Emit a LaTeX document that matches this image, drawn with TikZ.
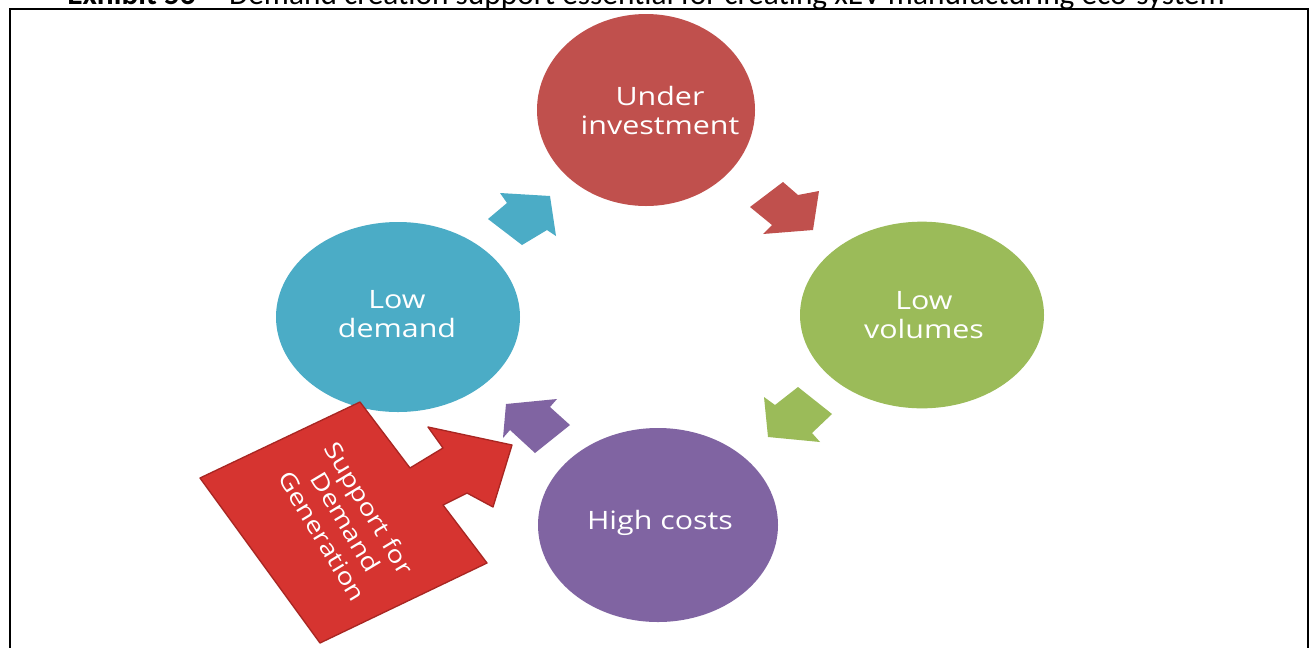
\documentclass[tikz,border=0pt]{standalone}
\usepackage{fontspec}
\setmainfont{Open Sans}
\newfontfamily\circfont[FakeStretch=1.2]{Open Sans}
\newfontfamily\titlefont{Carlito}
\usetikzlibrary{shapes.geometric}
\definecolor{cred}{HTML}{C0504D}
\definecolor{cgreen}{HTML}{9BBB59}
\definecolor{cpurple}{HTML}{8064A2}
\definecolor{cteal}{HTML}{4BACC6}
\definecolor{bigred}{HTML}{D63430}
\definecolor{bigredd}{HTML}{A82622}
\tikzset{
  bubble/.style={ellipse, inner sep=0pt, draw=none},
  bubbletext/.style={text=white, align=center, inner sep=0pt,
    font=\circfont\fontsize{19pt}{21.75pt}\selectfont},
  suptext/.style={text=white, align=center, inner sep=0pt,
    font=\circfont\fontsize{17.5pt}{20.5pt}\selectfont}
}
\begin{document}
\begin{tikzpicture}[x=0.75pt,y=-0.75pt]
\useasboundingbox (0,0) rectangle (1310,647);
\clip (0,0) rectangle (1310,647);
\fill[white] (0,0) rectangle (1310,647);
% title (cut off at the top)
\node[anchor=base, inner sep=0pt] (title) at (646,4.5)
  {\resizebox{868pt}{!}{\titlefont\textbf{Exhibit 56} -- Demand creation support essential for creating xEV manufacturing eco-system}};
% frame
\draw[line width=1.4pt] (10,700) -- (10,9) -- (1308,9) -- (1308,700);
% bubbles
\node[bubble, fill=cred, minimum width=163.5pt, minimum height=144pt] (inv) at (646,110) {};
\node[bubble, fill=cgreen, minimum width=183pt, minimum height=140pt] (vol) at (922,315) {};
\node[bubble, fill=cpurple, minimum width=180pt, minimum height=145.5pt] (cost) at (658,525) {};
\node[bubble, fill=cteal, minimum width=183pt, minimum height=142.5pt] (dem) at (398,317) {};
% small cycle arrows
\fill[cteal] (488,219) -- (507,203) -- (500,193) -- (550,196) -- (556,236) -- (547,230) -- (522,245) -- cycle;
\fill[cred] (783,182) -- (798,195) -- (819,191) -- (813,230) -- (763,234) -- (772,225) -- (750,207) -- cycle;
\fill[cgreen] (798,387) -- (832,414) -- (812,433) -- (820,442) -- (768,437) -- (764,397) -- (775,405) -- cycle;
\fill[cpurple] (506,404) -- (557,399) -- (550,407) -- (570,425) -- (535,453) -- (510,430) -- (503,438) -- cycle;
% big support arrow
\filldraw[fill=bigred, draw=bigredd, line width=1pt, line join=round]
  (200,478) -- (360,402) -- (410,468) -- (443,448) -- (428,427) -- (512,445)
  -- (493,507) -- (467,493) -- (443,505) -- (487,563) -- (320,643) -- cycle;
% texts
\node[bubbletext] (tinv) at (660,110) {Under\\investment};
\node[bubbletext] (tvol) at (924,315) {Low\\volumes};
\node[bubbletext] (tdem) at (397,314) {Low\\demand};
\node[bubbletext] (tcost) at (660,523) {High costs};
\node[suptext, rotate=-59] (tsup) at (346,522) {Support for\\Demand\\Generation};
\end{tikzpicture}
\end{document}
